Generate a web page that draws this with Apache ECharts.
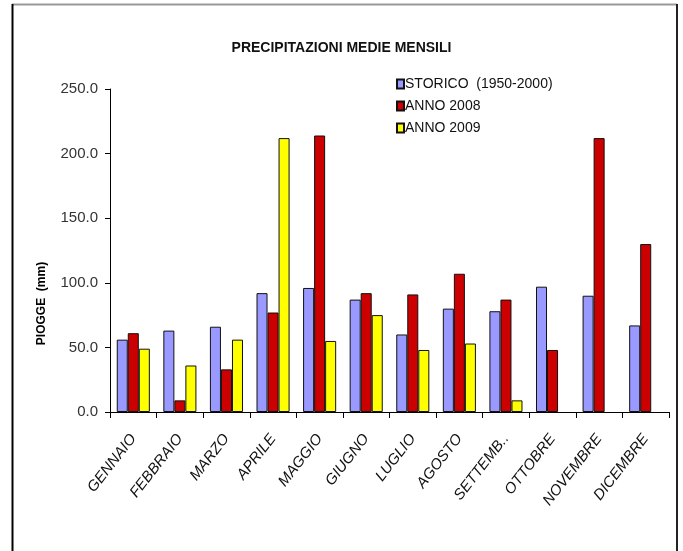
<!DOCTYPE html>
<html>
<head>
<meta charset="utf-8">
<script src="https://cdn.jsdelivr.net/npm/echarts@6/dist/echarts.min.js"></script>
<style>
  html, body { margin: 0; padding: 0; background: #fff; }
  #chart { width: 683px; height: 551px; }
</style>
</head>
<body>
<div id="chart"></div>
<script>
const months = ['GENNAIO', 'FEBBRAIO', 'MARZO', 'APRILE', 'MAGGIO', 'GIUGNO',
  'LUGLIO', 'AGOSTO', 'SETTEMB..', 'OTTOBRE', 'NOVEMBRE', 'DICEMBRE']
const storico = [56, 63, 66, 92, 96, 87, 60, 80, 78, 97, 90, 67]
const anno2008 = [61, 9, 33, 77, 214, 92, 91, 107, 87, 48, 212, 130]
const anno2009 = [49, 36, 56, 212, 55, 75, 48, 53, 9, null, null, null]

const font = "'Liberation Sans', Arial, sans-serif"

const chart = echarts.init(document.getElementById('chart'))

function barSeries (name, data, color) {
  return {
    name: name,
    type: 'bar',
    data: data,
    barGap: '0%',
    barCategoryGap: '29%',
    itemStyle: {
      color: color,
      borderColor: '#111',
      borderWidth: 1
    }
  }
}

chart.setOption({
  backgroundColor: '#fff',
  animation: false,
  title: {
    text: 'PRECIPITAZIONI MEDIE MENSILI',
    left: 'center',
    top: 36,
    textStyle: {
      fontFamily: font,
      fontSize: 14,
      fontWeight: 'bold',
      color: '#111'
    }
  },
  legend: {
    orient: 'vertical',
    left: 391,
    top: 72,
    itemGap: 8,
    itemWidth: 7,
    itemHeight: 9,
    icon: 'rect',
    textStyle: {
      fontFamily: font,
      fontSize: 14,
      color: '#111',
      padding: [0, 0, 0, -4]
    },
    data: ['STORICO  (1950-2000)', 'ANNO 2008', 'ANNO 2009']
  },
  grid: {
    left: 110,
    right: 14,
    top: 89,
    bottom: 139,
    containLabel: false
  },
  xAxis: {
    type: 'category',
    data: months,
    axisLine: { lineStyle: { color: '#000', width: 1 } },
    axisTick: { show: true, length: 6, lineStyle: { color: '#000' } },
    axisLabel: {
      rotate: 52,
      margin: 24,
      fontFamily: font,
      fontStyle: 'italic',
      fontSize: 15,
      color: '#111'
    }
  },
  yAxis: {
    type: 'value',
    min: 0,
    max: 250,
    interval: 50,
    name: 'PIOGGE  (mm)',
    nameLocation: 'middle',
    nameGap: 62,
    nameTextStyle: {
      fontFamily: font,
      fontSize: 12,
      fontWeight: 'bold',
      color: '#000',
      padding: [0, 106, 0, 0]
    },
    axisLine: { show: true, lineStyle: { color: '#000', width: 1 } },
    axisTick: { show: true, length: 5, lineStyle: { color: '#000' } },
    splitLine: { show: false },
    axisLabel: {
      margin: 12,
      fontFamily: font,
      fontSize: 15,
      color: '#333',
      formatter: function (v) { return v.toFixed(1) }
    }
  },
  series: [
    barSeries('STORICO  (1950-2000)', storico, '#9999FF'),
    barSeries('ANNO 2008', anno2008, '#CC0000'),
    barSeries('ANNO 2009', anno2009, '#FFFF00')
  ],
  graphic: [
    { type: 'line', shape: { x1: 12, y1: 4.5, x2: 677, y2: 4.5 }, style: { stroke: '#999', lineWidth: 2 } },
    { type: 'line', shape: { x1: 12.5, y1: 4, x2: 12.5, y2: 551 }, style: { stroke: '#000', lineWidth: 2 } },
    { type: 'line', shape: { x1: 677, y1: 4, x2: 677, y2: 551 }, style: { stroke: '#222', lineWidth: 2 } }
  ]
})
</script>
</body>
</html>
